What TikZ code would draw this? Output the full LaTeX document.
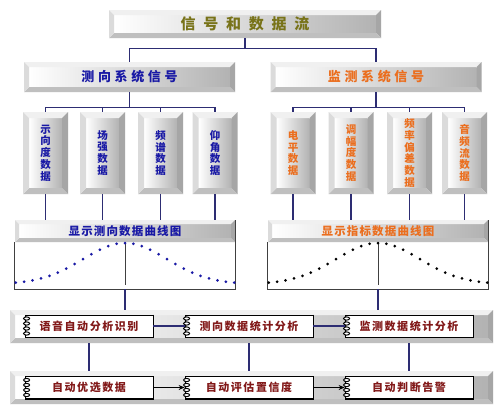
\documentclass[tikz,border=0pt]{standalone}
\usepackage{fontspec}
\newfontfamily\cjk{Noto Sans CJK SC}
\usetikzlibrary{positioning, calc, arrows.meta}
\definecolor{titlecol}{RGB}{120,115,25}
\definecolor{bluecol}{RGB}{25,25,165}
\definecolor{orangecol}{RGB}{235,110,30}
\definecolor{notecol}{RGB}{130,25,25}
\definecolor{linecol}{RGB}{45,45,115}
\tikzset{
	bevel/.style={inner sep=0pt, path picture={
		\coordinate (pnw) at (path picture bounding box.north west);
		\coordinate (pne) at (path picture bounding box.north east);
		\coordinate (pse) at (path picture bounding box.south east);
		\coordinate (psw) at (path picture bounding box.south west);
		\shade[left color=white, right color=gray!60] ($(pnw)+(#1,-#1)$) rectangle ($(pse)+(-#1,#1)$);
		\fill[gray!12] (pnw) -- (pne) -- ($(pne)+(-#1,-#1)$) -- ($(pnw)+(#1,-#1)$) -- cycle;
		\fill[gray!70] (pne) -- (pse) -- ($(pse)+(-#1,#1)$) -- ($(pne)+(-#1,-#1)$) -- cycle;
		\fill[gray!50] (pse) -- (psw) -- ($(psw)+(#1,#1)$) -- ($(pse)+(-#1,#1)$) -- cycle;
		\fill[gray!28] (psw) -- (pnw) -- ($(pnw)+(#1,-#1)$) -- ($(psw)+(#1,#1)$) -- cycle;
	}},
	bevel/.default=5pt,
}

\begin{document}
\begin{tikzpicture}[x=1pt, y=-1pt,
	link/.style={draw=linecol, line width=1.2pt},
	frame/.style={draw=black!75, line width=0.7pt},
	arr/.style={draw=black, line width=1.2pt, -{Stealth[length=6pt, width=5pt]}},
	databox/.style={bevel=6pt, minimum width=45pt, minimum height=82pt, align=center,
		font=\cjk\bfseries\fontsize{10.5}{11.8}\selectfont},
	hdr/.style={bevel=4pt, minimum width=220pt, minimum height=22pt,
		font=\cjk\bfseries\fontsize{11.5}{12}\selectfont\addfontfeature{LetterSpace=10}},
	sys/.style={bevel, minimum width=211pt, minimum height=30pt,
		font=\cjk\bfseries\fontsize{13}{13}\selectfont\addfontfeature{LetterSpace=28}},
	bar/.style={bevel, minimum width=483pt, minimum height=33pt},
	note/.style={draw=black, fill=white, line width=0.8pt, minimum width=128pt, minimum height=22pt,
		text=notecol, font=\cjk\bfseries\fontsize{11}{11}\selectfont\addfontfeature{LetterSpace=14}}]
	\useasboundingbox[fill=white] (0,0) rectangle (498,410);
	\node[bevel, minimum width=272pt, minimum height=28pt, text=titlecol,
		font=\cjk\bfseries\fontsize{15}{15}\selectfont\addfontfeature{LetterSpace=52}] (title) at (245,24) {信号和数据流};
	\node[sys, text=bluecol] (sysL) at (129.5,77) {测向系统信号};
	\node[sys, text=orangecol] (sysR) at (376,77) {监测系统信号};
	\draw[link] (title.south) -- ++(0,10) coordinate (jT);
	\draw[link] (sysL.north) |- (jT) -| (sysR.north);

	% data boxes
	\foreach \x/\t [count=\i] in {45.5/示\\向\\度\\数\\据, 102.5/场\\强\\数\\据, 160.5/频\\谱\\数\\据, 215/仰\\角\\数\\据}
		\node[databox, text=bluecol] (dL\i) at (\x,153) {\t};
	\foreach \x/\t [count=\i] in {293/电\\平\\数\\据, 351/调\\幅\\度\\数\\据, 409.5/频\\率\\偏\\差\\数\\据, 464.5/音\\频\\流\\数\\据}
		\node[databox, text=orangecol] (dR\i) at (\x,153) {\t};
	\draw[link] (sysL.south) -- ++(0,15) coordinate (jL);
	\draw[link] (sysR.south) -- ++(0,15) coordinate (jR);
	\draw[link] (dL1.north |- jL) -- (dL4.north |- jL);
	\draw[link] (dR1.north |- jR) -- (dR4.north |- jR);

	% curve charts
	\node[hdr, text=bluecol] (hdrL) at (125,231) {显示测向数据曲线图};
	\node[hdr, text=orangecol] (hdrR) at (378,231) {显示指标数据曲线图};
	\foreach \i in {1,...,4} {
		\draw[link] (dL\i.north |- jL) -- (dL\i.north);
		\draw[link] (dR\i.north |- jR) -- (dR\i.north);
		\draw[link] (dL\i.south) -- (dL\i.south |- hdrL.north);
		\draw[link] (dR\i.south) -- (dR\i.south |- hdrR.north);
	}
	\draw[frame] (hdrL.south west) -- ++(0,47) coordinate (cL) -- (cL -| hdrL.south east) -- (hdrL.north east);
	\draw[frame] (hdrR.south west) -- ++(0,47) coordinate (cR) -- (cR -| hdrR.south east) -- (hdrR.north east);
	\draw[frame] (hdrL.south) -- ++(0,43);
	\draw[frame] (hdrR.south) -- ++(0,43);
	\foreach \k in {-13,...,13} {
		\fill[bluecol] ({125+\k*8.4},{284-41*exp(-0.5*(\k*0.2)*(\k*0.2))}) circle (1.5pt);
		\fill[black] ({378+\k*8.4},{284-41*exp(-0.5*(\k*0.2)*(\k*0.2))}) circle (1.5pt);
	}

	% analysis bars
	\node[bar] (bar1) at (251.5,326.5) {};
	\node[bar] (bar2) at (251.5,387.5) {};
	\draw[link] (hdrL.south |- cL) -- (hdrL.south |- bar1.north);
	\draw[link] (hdrR.south |- cR) -- (hdrR.south |- bar1.north);
	\foreach \x/\t [count=\i] in {89/语音自动分析识别, 249/测向数据统计分析, 409/监测数据统计分析}
		\node[note] (a\i) at (\x,326) {\t};
	\foreach \x/\t [count=\i] in {89/自动优选数据, 249/自动评估置信度, 409/自动判断告警}
		\node[note] (b\i) at (\x,387.5) {\t};
	\foreach \n in {a1,a2,a3,b1,b2,b3} {
		\draw[line width=1.6pt] (\n.north east) -- (\n.south east) -- (\n.south west);
		\foreach \k in {-7.5,-2.5,2.5,7.5}
			\draw[line width=1pt, fill=white] ($(\n.west)+(2pt,\k pt)$) ellipse (3pt and 1.6pt);
	}
	\draw[link] (a1) -- (a2) (a2) -- (a3);
	\draw[arr] (b1) -- (b2);
	\draw[arr] (b2) -- (b3);
	\foreach \i in {1,2,3}
		\draw[link] (a\i |- bar1.south) -- (a\i |- bar2.north);
\end{tikzpicture}
\end{document}
